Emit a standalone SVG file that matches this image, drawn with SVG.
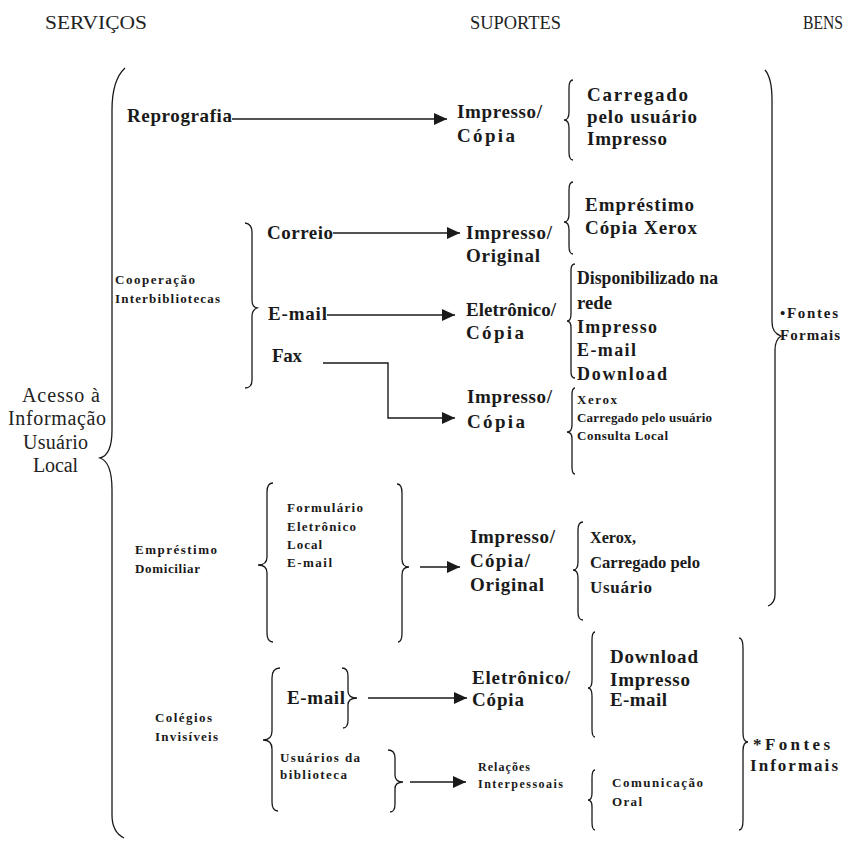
<svg xmlns="http://www.w3.org/2000/svg" width="850" height="841" viewBox="0 0 850 841">
<style>
.h{font-family:"Liberation Serif","Times New Roman",serif;font-size:19px;fill:#222}
.r{font-family:"Liberation Serif","Times New Roman",serif;font-size:20px;fill:#222}
.b{font-family:"Liberation Serif","Times New Roman",serif;font-size:19px;font-weight:bold;fill:#1a1a1a}
.s{font-family:"Liberation Serif","Times New Roman",serif;font-size:13px;font-weight:bold;fill:#1a1a1a}
.m{font-family:"Liberation Serif","Times New Roman",serif;font-size:15px;font-weight:bold;fill:#1a1a1a}
.br{fill:none;stroke:#1a1a1a;stroke-width:1.3}
.c{fill:none;stroke:#1a1a1a;stroke-width:1.4}
</style>
<defs>
<marker id="ah" markerUnits="userSpaceOnUse" markerWidth="14" markerHeight="12" refX="13" refY="6" orient="auto">
<path d="M0,0 L13,6 L0,12 z" fill="#1a1a1a"/>
</marker>
</defs>
<rect width="850" height="841" fill="#fff"/>
<g id="headers">
<text class="h" x="45" y="29" textLength="102" lengthAdjust="spacingAndGlyphs">SERVIÇOS</text>
<text class="h" x="470" y="29" textLength="91" lengthAdjust="spacingAndGlyphs">SUPORTES</text>
<text class="h" x="803" y="29" textLength="40" lengthAdjust="spacingAndGlyphs">BENS</text>
</g>
<g id="acesso">
<text class="r" x="22" y="402" textLength="78" lengthAdjust="spacing">Acesso à</text>
<text class="r" x="8" y="425" textLength="98" lengthAdjust="spacing">Informação</text>
<text class="r" x="23" y="449" textLength="65" lengthAdjust="spacing">Usuário</text>
<text class="r" x="33" y="472" textLength="45" lengthAdjust="spacing">Local</text>
<path class="br" d="M125,68 Q112,80 112,110 L112,430 Q112,455 100,458 Q112,462 112,490 L112,815 Q112,832 124,838"/>
</g>
<g id="reprografia">
<text class="b" x="127" y="122" textLength="105" lengthAdjust="spacing">Reprografia</text>
</g>
<g id="sup-reprografia">
<text class="b" x="457" y="118" textLength="85" lengthAdjust="spacing">Impresso/</text>
<text class="b" x="457" y="142" textLength="58" lengthAdjust="spacing">Cópia</text>
</g>
<g id="bens-reprografia">
<path class="br" d="M573,80 Q569,80 569,88 L569,112 Q569,120 564,120 Q569,120 569,128 L569,152 Q569,160 573,160"/>
<text class="b" x="587" y="101" textLength="101" lengthAdjust="spacing">Carregado</text>
<text class="b" x="587" y="123" textLength="110" lengthAdjust="spacing">pelo usuário</text>
<text class="b" x="587" y="145" textLength="80" lengthAdjust="spacing">Impresso</text>
</g>
<g id="cooperacao">
<text class="s" x="115" y="284" textLength="80" lengthAdjust="spacing">Cooperação</text>
<text class="s" x="115" y="303" textLength="105" lengthAdjust="spacing">Interbibliotecas</text>
<path class="br" d="M245,223 Q252,224 252,232 L252,300 Q252,307 257,308 Q252,310 252,316 L252,380 Q252,388 245,388"/>
<text class="b" x="267" y="239" textLength="66" lengthAdjust="spacing">Correio</text>
<text class="b" x="268" y="320" textLength="59" lengthAdjust="spacing">E-mail</text>
<text class="b" x="272" y="362" textLength="30" lengthAdjust="spacing">Fax</text>
</g>
<g id="sup-correio">
<text class="b" x="466" y="239" textLength="86" lengthAdjust="spacing">Impresso/</text>
<text class="b" x="466" y="262" textLength="74" lengthAdjust="spacing">Original</text>
</g>
<g id="bens-correio">
<path class="br" d="M573,182 Q569,182 569,190 L569,214 Q569,222 564,222 Q569,222 569,230 L569,246 Q569,254 573,254"/>
<text class="b" x="585" y="211" textLength="109" lengthAdjust="spacing">Empréstimo</text>
<text class="b" x="585" y="234" textLength="112" lengthAdjust="spacing">Cópia Xerox</text>
</g>
<g id="sup-email">
<text class="b" x="466" y="316" textLength="90" lengthAdjust="spacing">Eletrônico/</text>
<text class="b" x="466" y="339" textLength="58" lengthAdjust="spacing">Cópia</text>
</g>
<g id="bens-email">
<path class="br" d="M575,264 Q571,264 571,270 L571,314 Q571,321 567,321 Q571,321 571,328 L571,372 Q571,378 575,378"/>
<text class="b" x="577" y="284" textLength="141" lengthAdjust="spacingAndGlyphs" style="font-size:18px">Disponibilizado na</text>
<text class="b" x="577" y="309" textLength="35" lengthAdjust="spacingAndGlyphs" style="font-size:18px">rede</text>
<text class="b" x="577" y="333" textLength="80" lengthAdjust="spacing" style="font-size:18px">Impresso</text>
<text class="b" x="577" y="356" textLength="59" lengthAdjust="spacing" style="font-size:18px">E-mail</text>
<text class="b" x="577" y="380" textLength="90" lengthAdjust="spacing" style="font-size:18px">Download</text>
</g>
<g id="sup-fax">
<text class="b" x="467" y="403" textLength="85" lengthAdjust="spacing">Impresso/</text>
<text class="b" x="467" y="428" textLength="58" lengthAdjust="spacing">Cópia</text>
</g>
<g id="bens-fax">
<path class="br" d="M575,388 Q572,388 572,395 L572,425 Q572,432 567,432 Q572,432 572,439 L572,467 Q572,474 575,474"/>
<text class="s" x="577" y="404" textLength="40" lengthAdjust="spacing">Xerox</text>
<text class="s" x="577" y="422" textLength="135" lengthAdjust="spacing">Carregado pelo usuário</text>
<text class="s" x="577" y="440" textLength="91" lengthAdjust="spacing">Consulta Local</text>
</g>
<g id="fontes-formais">
<path class="br" d="M765,70 Q772,78 772,100 L772,322 Q772,333 781,336 Q775,340 775,350 L775,595 Q775,603 768,606"/>
<text class="m" x="780" y="318" textLength="58" lengthAdjust="spacing">•Fontes</text>
<text class="m" x="780" y="340" textLength="60" lengthAdjust="spacing">Formais</text>
</g>
<g id="emprestimo">
<text class="s" x="135" y="554" textLength="82" lengthAdjust="spacing">Empréstimo</text>
<text class="s" x="135" y="573" textLength="65" lengthAdjust="spacing">Domiciliar</text>
<path class="br" d="M273,483 Q267,483 267,492 L267,557 Q267,565 258,565 Q267,565 267,573 L267,633 Q267,642 273,642"/>
<text class="s" x="287" y="512" textLength="76" lengthAdjust="spacing">Formulário</text>
<text class="s" x="287" y="531" textLength="69" lengthAdjust="spacing">Eletrônico</text>
<text class="s" x="287" y="549" textLength="35" lengthAdjust="spacing">Local</text>
<text class="s" x="287" y="567" textLength="45" lengthAdjust="spacing">E-mail</text>
<path class="br" d="M397,484 Q402,484 402,493 L402,559 Q402,567 409,567 Q402,567 402,575 L402,633 Q402,642 398,642"/>
</g>
<g id="sup-emprestimo">
<text class="b" x="470" y="543" textLength="85" lengthAdjust="spacing">Impresso/</text>
<text class="b" x="470" y="567" textLength="60" lengthAdjust="spacing">Cópia/</text>
<text class="b" x="470" y="591" textLength="74" lengthAdjust="spacing">Original</text>
</g>
<g id="bens-emprestimo">
<path class="br" d="M583,522 Q578,522 578,530 L578,562 Q578,570 573,570 Q578,570 578,578 L578,612 Q578,620 583,620"/>
<text class="b" x="590" y="543" textLength="46" lengthAdjust="spacingAndGlyphs" style="font-size:17px">Xerox,</text>
<text class="b" x="590" y="568" textLength="110" lengthAdjust="spacingAndGlyphs" style="font-size:17px">Carregado pelo</text>
<text class="b" x="590" y="593" textLength="62" lengthAdjust="spacing" style="font-size:17px">Usuário</text>
</g>
<g id="colegios">
<text class="s" x="155" y="722" textLength="57" lengthAdjust="spacing">Colégios</text>
<text class="s" x="155" y="741" textLength="63" lengthAdjust="spacing">Invisíveis</text>
<path class="br" d="M280,668 Q272,668 272,678 L272,731 Q272,740 263,740 Q272,740 272,749 L272,802 Q272,811 278,811"/>
<text class="b" x="287" y="704" textLength="58" lengthAdjust="spacing">E-mail</text>
<path class="br" d="M342,668 Q348,668 348,676 L348,691 Q348,698 357,698 Q348,698 348,705 L348,720 Q348,728 343,728"/>
<text class="s" x="280" y="762" textLength="80" lengthAdjust="spacing">Usuários da</text>
<text class="s" x="280" y="779" textLength="67" lengthAdjust="spacing">biblioteca</text>
<path class="br" d="M388,750 Q395,750 395,758 L395,775 Q395,782 403,782 Q395,782 395,789 L395,804 Q395,812 390,812"/>
</g>
<g id="sup-colegios">
<text class="b" x="472" y="684" textLength="98" lengthAdjust="spacing">Eletrônico/</text>
<text class="b" x="472" y="706" textLength="52" lengthAdjust="spacing">Cópia</text>
<text class="s" x="478" y="771" textLength="52" lengthAdjust="spacing" style="font-size:12px">Relações</text>
<text class="s" x="478" y="788" textLength="85" lengthAdjust="spacing" style="font-size:12px">Interpessoais</text>
</g>
<g id="bens-colegios">
<path class="br" d="M595,632 Q592,632 592,640 L592,680 Q592,688 588,688 Q592,688 592,696 L592,729 Q592,737 595,737"/>
<text class="b" x="610" y="663" textLength="88" lengthAdjust="spacing">Download</text>
<text class="b" x="610" y="686" textLength="80" lengthAdjust="spacing">Impresso</text>
<text class="b" x="610" y="706" textLength="57" lengthAdjust="spacing">E-mail</text>
<path class="br" d="M595,770 Q592,770 592,778 L592,793 Q592,800 588,800 Q592,800 592,807 L592,822 Q592,830 595,830"/>
<text class="s" x="612" y="787" textLength="91" lengthAdjust="spacing">Comunicação</text>
<text class="s" x="612" y="806" textLength="30" lengthAdjust="spacing">Oral</text>
</g>
<g id="fontes-informais">
<path class="br" d="M739,638 Q743,638 743,648 L743,733 Q743,742 748,742 Q743,742 743,751 L743,820 Q743,830 739,830"/>
<text class="m" x="753" y="750" textLength="77" lengthAdjust="spacing" style="font-size:17px">*Fontes</text>
<text class="m" x="750" y="771" textLength="88" lengthAdjust="spacing" style="font-size:17px">Informais</text>
</g>
<g id="connectors">
<path class="c" d="M232,119 H447" marker-end="url(#ah)"/>
<path class="c" d="M333,233 H460" marker-end="url(#ah)"/>
<path class="c" d="M327,315 H455" marker-end="url(#ah)"/>
<path class="c" d="M323,363 H388 V418 H455" marker-end="url(#ah)"/>
<path class="c" d="M420,567 H460" marker-end="url(#ah)"/>
<path class="c" d="M368,698 H467" marker-end="url(#ah)"/>
<path class="c" d="M410,782 H466" marker-end="url(#ah)"/>
</g>
</svg>
